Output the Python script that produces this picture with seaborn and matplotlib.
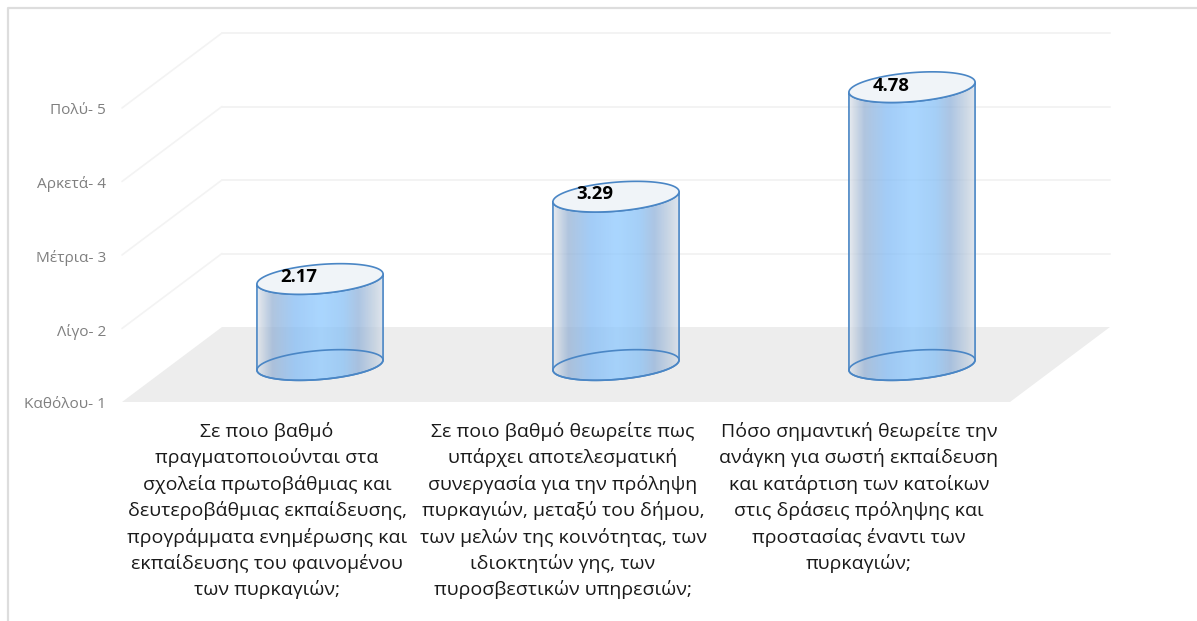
import numpy as np
import matplotlib
matplotlib.use("Agg")
import matplotlib.pyplot as plt
import seaborn as sns
from matplotlib.lines import Line2D
from matplotlib.patches import Polygon
from matplotlib.transforms import ScaledTranslation

questions = [
    "Σε ποιο βαθμό\nπραγματοποιούνται στα\nσχολεία πρωτοβάθμιας και\nδευτεροβάθμιας εκπαίδευσης,\nπρογράμματα ενημέρωσης και\nεκπαίδευσης του φαινομένου\nτων πυρκαγιών;",
    "Σε ποιο βαθμό θεωρείτε πως\nυπάρχει αποτελεσματική\nσυνεργασία για την πρόληψη\nπυρκαγιών, μεταξύ του δήμου,\nτων μελών της κοινότητας, των\nιδιοκτητών γης, των\nπυροσβεστικών υπηρεσιών;",
    "Πόσο σημαντική θεωρείτε την\nανάγκη για σωστή εκπαίδευση\nκαι κατάρτιση των κατοίκων\nστις δράσεις πρόληψης και\nπροστασίας έναντι των\nπυρκαγιών;",
]
scores = [2.17, 3.29, 4.78]
scale_values = [1, 2, 3, 4, 5]
scale_labels = ["Καθόλου- 1", "Λίγο- 2", "Μέτρια- 3", "Αρκετά- 4", "Πολύ- 5"]

W, H = 1197, 621
sns.set_theme(style="white")
plt.rcParams["font.family"] = ["DejaVu Sans"]
fig = plt.figure(figsize=(W / 100, H / 100), dpi=100, facecolor="white")
L, R, B, T = 122, 1010, 402, 34.5
ax = fig.add_axes([L / W, 1 - B / H, (R - L) / W, (B - T) / H])

sns.barplot(x=list(range(3)), y=scores, width=0.426, ax=ax, color="#A9D6FF", zorder=0)
bars = list(ax.patches)
for b in bars:
    b.set_visible(False)

px_x = (R - L) / 3
px_y = 73.5
back_dx, back_dy = 100 / px_x, 75 / px_y
mid_dx, mid_dy = 50 / px_x, 37 / px_y
x0, x1 = -0.5, 2.5

# floor and walls
ax.add_patch(Polygon([(x0, 1), (x1, 1), (x1 + back_dx, 1 + back_dy), (x0 + back_dx, 1 + back_dy)],
                     closed=True, fc="#EDEDED", ec="none", clip_on=False, zorder=1))
for v in scale_values[1:]:
    ax.plot([x0, x0 + back_dx], [v, v + back_dy], color="#F3F3F3", lw=1.2, clip_on=False, zorder=1)
    ax.plot([x0 + back_dx, x1 + back_dx], [v + back_dy, v + back_dy], color="#F3F3F3", lw=1.4,
            clip_on=False, zorder=1)

# horizontal shading of the cylinder body
stops = [0, 0.03, 0.12, 0.30, 0.50, 0.68, 0.80, 0.93, 1]
reds = [222, 205, 150, 132, 142, 135, 145, 190, 215]
greens = [228, 214, 178, 188, 201, 192, 178, 205, 222]
blues = [236, 226, 212, 245, 255, 245, 218, 222, 232]
t = np.linspace(0, 1, 256)
grad = np.ones((1, 256, 4))
grad[0, :, 0] = np.interp(t, stops, reds) / 255
grad[0, :, 1] = np.interp(t, stops, greens) / 255
grad[0, :, 2] = np.interp(t, stops, blues) / 255
grad[0, :, 3] = 0.75

EDGE = "#4A86C5"
b_semi = 14.5 / px_y
shear = 5.0 / px_y
theta = np.linspace(0, 2 * np.pi, 181)


def ring(cx, cy, a):
    c, s = np.cos(theta), np.sin(theta)
    return np.column_stack([cx + a * c, cy + b_semi * s + shear * c])


label_dx = [-21, -21, -21]
label_dy = [2, 3, 1]
for i, bar in enumerate(bars):
    a = bar.get_width() / 2
    cx = bar.get_x() + a + mid_dx
    y_top = bar.get_height() + mid_dy
    y_bot = 1 + mid_dy
    top = ring(cx, y_top, a)
    bot = ring(cx, y_bot, a)
    lower_bot = bot[90:181]
    lower_top = top[90:181]
    body = np.vstack([lower_bot, lower_top[::-1]])
    ax.add_patch(Polygon(body, closed=True, fc="none", ec=EDGE, lw=1.2, zorder=4, joinstyle="round"))
    im = ax.imshow(grad, extent=(cx - a, cx + a, y_bot - 2 * b_semi, y_top + 2 * b_semi),
                   aspect="auto", zorder=3, interpolation="bilinear")
    im.set_clip_path(Polygon(body, closed=True, transform=ax.transData))
    ax.add_patch(Polygon(bot, closed=True, fc="none", ec=EDGE, lw=1.2, zorder=4))
    ax.add_patch(Polygon(top, closed=True, fc="#F0F4F8", ec=EDGE, lw=1.2, zorder=5))
    ax.annotate(f"{scores[i]:.2f}", xy=(cx, y_top), xytext=(label_dx[i], label_dy[i]),
                textcoords="offset pixels", ha="center", va="center", fontsize=13.3,
                fontweight="bold", color="black", family="Open Sans", zorder=6)

ax.set_xlim(x0, x1)
ax.set_ylim(1, 1 + (B - T) / px_y)
ax.set_yticks(scale_values)
ax.set_yticklabels(scale_labels, fontsize=11.1, color="#7F7F7F", family="Open Sans")
ax.set_xticks(range(3))
ax.set_xticklabels(questions, fontsize=14.0, color="#1A1A1A", linespacing=1.49, va="top", ha="center",
                   family="Open Sans")
ax.tick_params(axis="y", length=0, pad=11.5)
ax.tick_params(axis="x", length=0, pad=14.5)
shift_x = ScaledTranslation(-3 / 100, 0, fig.dpi_scale_trans)
for lab in ax.get_xticklabels():
    lab.set_transform(lab.get_transform() + shift_x)
shift_y = ScaledTranslation(0, -1 / 100, fig.dpi_scale_trans)
for lab in ax.get_yticklabels():
    lab.set_transform(lab.get_transform() + shift_y)
for s in ax.spines.values():
    s.set_visible(False)
ax.patch.set_alpha(0)

# outer chart frame
fig.add_artist(Line2D([8 / W, 8 / W, 1], [0, 1 - 8 / H, 1 - 8 / H], color="#DDDDDD", lw=1.6))

fig.savefig("out.png", dpi=100, facecolor="white")
